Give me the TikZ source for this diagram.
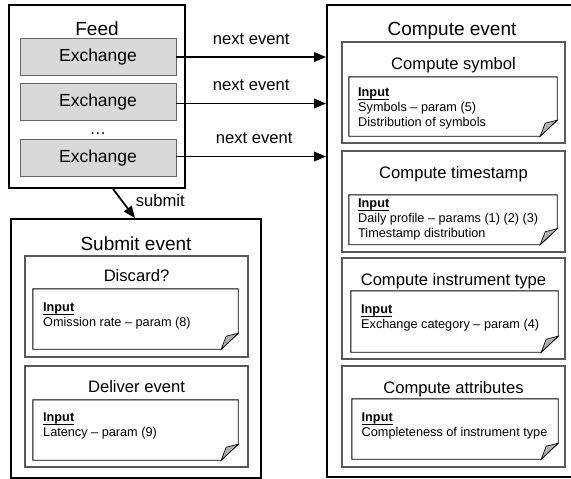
\documentclass[tikz,border=0pt]{standalone}
\usepackage{fontspec}
\setmainfont{Liberation Sans}
\usetikzlibrary{arrows.meta}
\usetikzlibrary{calc}
\tikzset{frame/.style={draw, line width=1.8pt, inner sep=0pt}}
\tikzset{group/.style={draw=black!65, line width=1.1pt, inner sep=0pt, minimum width=223pt, minimum height=101pt}}
\tikzset{exch/.style={draw=black!60, fill=black!15, line width=.8pt, inner sep=0pt, minimum width=156pt, minimum height=37pt, font=\fontsize{17.5}{20}\selectfont}}
\tikzset{ttl/.style={anchor=base, inner sep=0pt, font=\fontsize{19}{22}\selectfont}}
\tikzset{subttl/.style={anchor=base, inner sep=0pt, font=\fontsize{16.6}{20}\selectfont}}
\tikzset{notebox/.style={inner sep=0pt}}
\tikzset{notefrm/.style={draw, line width=.9pt}}
\tikzset{flapfill/.style={draw, fill=black!30, line width=.7pt}}
\tikzset{notetext/.style={anchor=north west, inner sep=0pt, align=left, font=\fontsize{12.7}{15}\selectfont}}
\tikzset{flow/.style={line width=1.8pt, -{Triangle[length=12pt,width=9.5pt]}}}
\tikzset{lbl/.style={inner sep=0pt, font=\fontsize{16.6}{20}\selectfont}}

% underlined heading of a note
\newcommand{\inhead}{\leavevmode\vtop{\hbox{\textbf{Input}}\kern.3pt\hrule height .8pt}}

\newcommand{\foldnote}[1]{%
  \draw[notefrm] (#1.north west) -- (#1.north east) -- ([yshift=16pt]#1.south east)
    -- ([xshift=-17pt]#1.south east) -- (#1.south west) -- cycle;
  \draw[flapfill] ([yshift=16pt]#1.south east)
    .. controls ([xshift=-6pt,yshift=15pt]#1.south east) .. ([xshift=-12pt,yshift=13pt]#1.south east)
    .. controls ([xshift=-14pt,yshift=7pt]#1.south east) .. ([xshift=-17pt]#1.south east) -- cycle;
}

\begin{document}
\begin{tikzpicture}[x=1pt,y=-1pt]
  \useasboundingbox (0,0) rectangle (571,479);
  \clip (0,0) rectangle (571,479);

  % outer frames
  \node[frame, minimum width=176pt, minimum height=183pt] (feed) at (97,96.5) {};
  \node[frame, minimum width=250pt, minimum height=259pt] (submit) at (136,348.5) {};
  \node[frame, minimum width=250pt, minimum height=472pt] (comp) at (452,241) {};
  \node[ttl] (feed-t) at (97,35) {Feed};
  \node[ttl] (submit-t) at (136,250) {Submit event};
  \node[ttl] (comp-t) at (452,35) {Compute event};

  % exchanges
  \foreach \nm/\cy in {ex1/57, ex2/101.5, ex3/158} {
    \node[exch] (\nm) at (98,\cy) {Exchange};
  }
  \node[lbl, anchor=base] (dots) at (98,134) {…};

  % steps
  \foreach \nm/\cx/\cy/\tb/\ttl in {
    csym/453.5/92.5/69/Compute symbol,
    ctim/453.5/201.5/178/Compute timestamp,
    cins/453.5/308.5/285/Compute instrument type,
    catt/453.5/416.5/393/Compute attributes,
    sdis/136.5/306.5/281/Discard?,
    sdel/136.5/416.5/392/Deliver event%
  } {
    \node[group] (\nm) at (\cx,\cy) {};
    \node[subttl] (\nm-t) at (\cx,\tb) {\ttl};
  }

  % input notes
  \foreach \nm/\cx/\cy/\w/\h in {
    nsym/453/106.5/208/59,
    ntim/453/219.75/208/49.5,
    nins/454.5/321.5/207/61,
    natt/455/429/206/60,
    ndis/135.5/319/205/60,
    ndel/135.5/430/205/60%
  } {
    \node[notebox, minimum width=\w pt, minimum height=\h pt] (\nm) at (\cx,\cy) {};
    \foldnote{\nm}
  }
  \node[notetext] (tsym) at (358,87.5) {\inhead\\Symbols – param (5)\\Distribution of symbols};
  \node[notetext] (ttim) at (358,198.5) {\inhead\\Daily profile – params (1) (2) (3)\\Timestamp distribution};
  \node[notetext] (tins) at (361,304.5) {\inhead\\Exchange category – param (4)};
  \node[notetext] (tatt) at (361.5,412.5) {\inhead\\Completeness of instrument type};
  \node[notetext] (tdis) at (43,302.5) {\inhead\\Omission rate – param (8)};
  \node[notetext] (tdel) at (43,412.5) {\inhead\\Latency – param (9)};

  % flows
  \draw[flow] (ex1.east) -- (ex1.east -| comp.west)
    node[lbl, midway, anchor=base, yshift=12pt] (nx1) {next event};
  \draw[flow] ([yshift=-2pt]ex2.east) -- ([yshift=-2pt]ex2.east -| comp.west)
    node[lbl, midway, anchor=base, yshift=13pt] (nx2) {next event};
  \draw[flow] ([yshift=1.5pt]ex3.east) -- ([yshift=1.5pt]ex3.east -| comp.west)
    node[lbl, midway, anchor=base, yshift=13pt, xshift=3pt] (nx3) {next event};
  \draw[flow] ([xshift=16pt]feed.south) -- ([xshift=-1pt]submit.north)
    node[lbl, midway, anchor=west, xshift=11pt, yshift=3pt] (sub) {submit};
\end{tikzpicture}
\end{document}
